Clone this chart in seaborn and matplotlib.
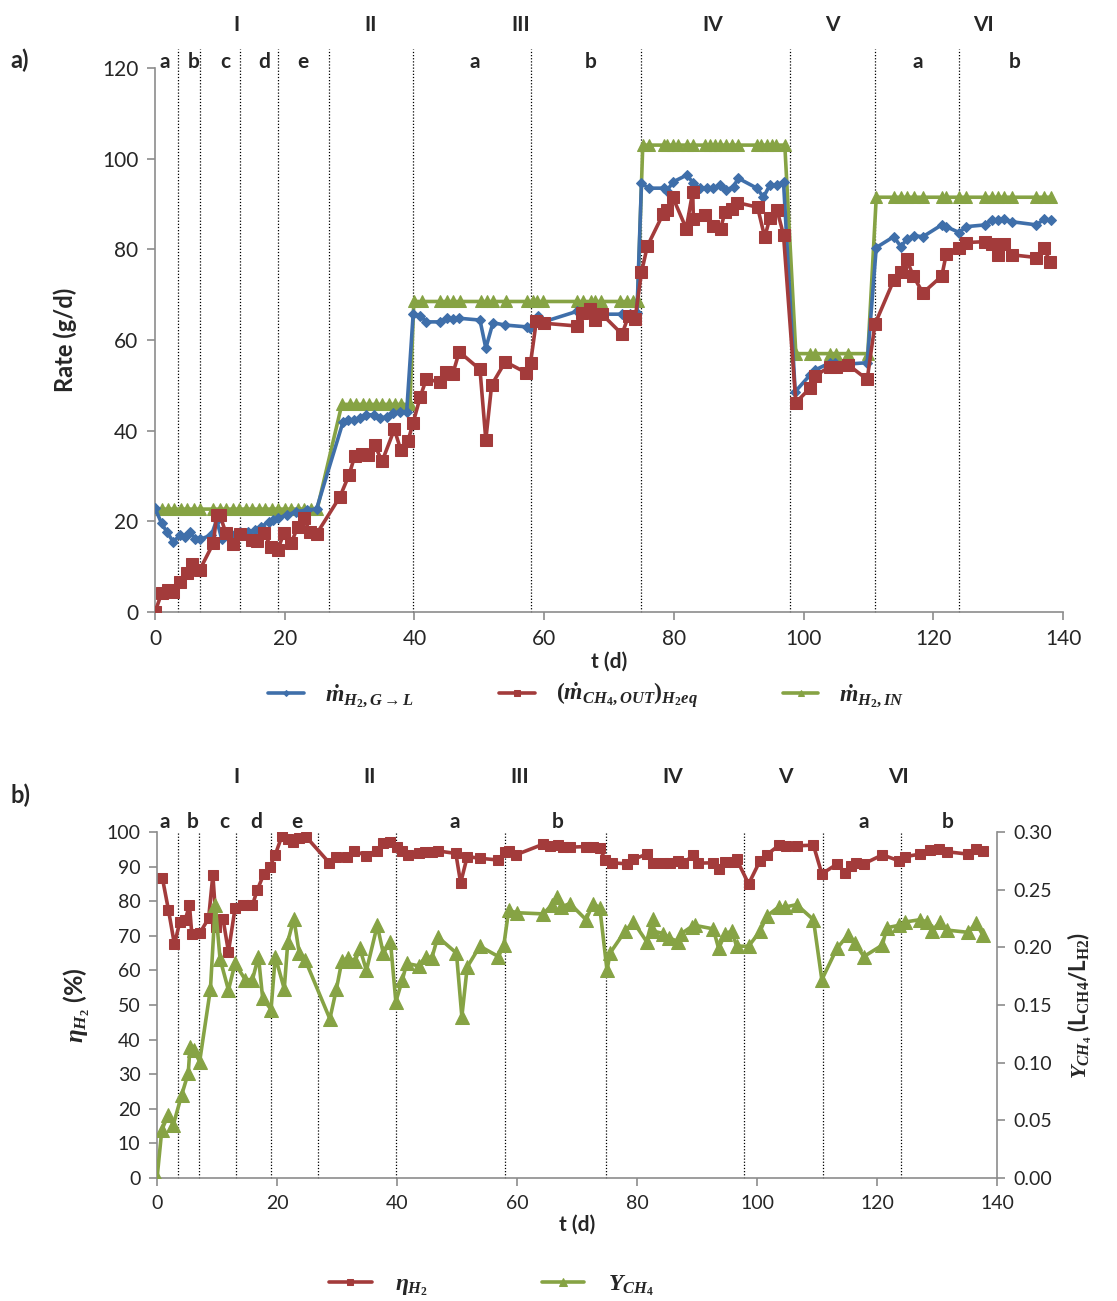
import matplotlib
matplotlib.use("Agg")
import matplotlib.pyplot as plt
import seaborn as sns
import pandas as pd

# ---------------- data: panel a ----------------
blue_t = [0, 1.0, 1.8, 2.8, 3.9, 4.6, 5.4, 6.2, 6.9, 8.7, 9.5, 10.3, 11.8, 13.1, 14.4, 15.4, 16.4, 17.5, 18.2, 19.0,
          20.3, 21.8, 23.4, 24.9, 29.0, 29.8, 30.6, 31.6, 32.6, 33.7, 34.7, 35.7, 36.7, 37.8, 38.8, 39.8, 40.9, 41.8,
          43.9, 45.0, 46.0, 46.9, 50.1, 51.0, 52.1, 54.0, 57.3, 57.8, 59.1, 59.9, 65.0, 67.1, 68.9, 72.0, 73.2, 74.3,
          75.0, 76.1, 78.4, 78.9, 79.9, 82.0, 83.0, 84.0, 85.1, 86.1, 87.1, 88.1, 89.2, 89.9, 92.8, 93.8, 94.8, 95.9,
          96.9, 98.7, 101.0, 101.8, 104.1, 104.8, 106.9, 109.8, 111.2, 113.9, 115.0, 115.9, 117.0, 118.4, 121.3,
          122.0, 124.0, 125.0, 128.0, 129.0, 130.0, 130.9, 132.1, 135.9, 137.0, 138.1]
blue_v = [22.9, 19.6, 17.7, 15.5, 17.0, 16.6, 17.7, 16.0, 16.0, 17.0, 20.3, 16.0, 17.0, 17.7, 17.7, 18.1, 18.8, 19.9,
          20.3, 20.7, 21.4, 22.1, 22.5, 22.7, 42.0, 42.4, 42.4, 42.7, 43.5, 43.5, 42.7, 43.1, 43.8, 44.2, 44.2, 65.7,
          65.3, 64.0, 64.0, 64.8, 64.6, 64.8, 64.4, 58.2, 63.8, 63.3, 62.9, 62.6, 65.3, 64.0, 66.3, 65.9, 65.7, 65.7,
          65.7, 65.9, 94.6, 93.5, 93.5, 92.9, 94.9, 96.4, 94.6, 93.5, 93.5, 93.5, 94.2, 93.1, 93.8, 95.7, 93.5, 91.5,
          94.2, 94.2, 94.9, 48.6, 52.3, 53.4, 55.0, 55.0, 54.7, 55.0, 80.4, 82.8, 80.6, 82.2, 83.0, 82.8, 85.4, 85.0,
          83.7, 85.0, 85.4, 86.5, 86.5, 86.6, 86.1, 85.4, 86.6, 86.5]

red_t = [0, 1.0, 2.0, 2.8, 3.9, 4.9, 5.7, 6.9, 9.0, 9.5, 10.0, 10.9, 12.0, 13.1, 14.9, 15.7, 16.8, 17.9, 18.9, 19.9,
         21.0, 22.0, 22.9, 23.9, 24.9, 28.5, 29.9, 30.8, 31.9, 32.9, 33.9, 35.0, 36.9, 37.9, 39.0, 39.8, 40.9, 41.8,
         43.9, 44.9, 45.9, 46.9, 50.1, 51.0, 51.9, 54.0, 57.2, 57.9, 58.8, 60.0, 65.0, 65.9, 67.0, 67.8, 68.9, 72.0,
         73.0, 74.0, 75.0, 75.9, 78.3, 78.9, 79.8, 81.9, 82.9, 83.0, 84.8, 86.1, 87.2, 87.9, 89.0, 89.8, 92.9, 94.0,
         94.8, 95.9, 96.9, 98.8, 101.0, 101.8, 104.0, 105.0, 106.9, 109.8, 111.0, 113.9, 115.0, 115.9, 116.9, 118.4,
         121.3, 122.0, 124.0, 125.0, 128.0, 129.0, 129.9, 130.9, 132.1, 135.9, 137.0, 138.0]
red_v = [0, 4.1, 4.9, 4.3, 6.7, 8.5, 10.5, 9.3, 15.2, 21.4, 21.4, 17.5, 15.0, 17.1, 15.9, 15.7, 17.4, 14.4, 13.7, 17.5,
         15.2, 18.8, 20.7, 17.7, 17.2, 25.4, 30.2, 34.4, 34.9, 34.6, 36.8, 33.2, 40.3, 35.7, 37.7, 41.8, 47.5, 51.3,
         50.8, 53.0, 52.5, 57.4, 53.5, 38.0, 50.1, 55.2, 52.8, 55.0, 64.3, 63.7, 63.1, 65.9, 66.8, 64.4, 65.7, 61.3,
         65.3, 64.6, 74.9, 80.7, 87.7, 88.7, 91.6, 84.6, 92.7, 86.8, 87.6, 85.2, 84.6, 88.3, 88.8, 90.3, 89.3, 82.7,
         86.9, 88.7, 83.2, 46.2, 49.4, 52.1, 54.1, 54.0, 54.5, 51.3, 63.5, 73.2, 75.1, 77.8, 74.1, 70.4, 74.1, 79.0,
         80.4, 81.5, 81.7, 81.2, 78.8, 81.2, 78.8, 78.2, 80.4, 77.3]

green_t = [0, 1, 2, 3, 4, 5, 6, 7, 9, 10, 11, 12, 13, 14, 15, 16, 17, 18, 19, 20, 21, 22, 23, 24, 25,
           28.8, 30, 31, 32, 33, 34, 35, 36, 37, 38, 39.3,
           39.9, 41.2, 43.9, 45, 46, 47, 50.3, 51.2, 52.1, 54.1, 57.4, 58.3, 58.9, 59.8, 65, 66, 67.2, 67.9, 68.7,
           71.7, 72.8, 73.7, 74.4,
           75.2, 76.1, 78.4, 78.9, 79.9, 80.7, 82, 83, 84.8, 85.5, 86.3, 87.1, 88, 88.9, 89.9, 92.8, 93.5, 94.3,
           95.1, 95.8, 97.1,
           98.8, 101, 101.8, 104, 105, 106.9, 109.9,
           111.2, 113.9, 115, 115.9, 117, 118.4, 121.3, 122, 124, 125, 128, 129, 130, 130.9, 132.1, 135.9, 137, 138.1]
green_v = [22.7, 22.7, 22.7, 22.7, 22.7, 22.7, 22.7, 22.7, 22.7, 22.7, 22.7, 22.7, 22.7, 22.7, 22.7, 22.7, 22.7,
           22.7, 22.7, 22.7, 22.7, 22.7, 22.7, 22.7, 22.7,
           45.8, 45.8, 45.8, 45.8, 45.8, 45.8, 45.8, 45.8, 45.8, 45.8, 45.8,
           68.5, 68.5, 68.5, 68.5, 68.5, 68.5, 68.5, 68.5, 68.5, 68.5, 68.5, 68.5, 68.5, 68.5, 68.5, 68.5, 68.5,
           68.5, 68.5, 68.5, 68.5, 68.5, 68.5,
           103, 103, 103, 103, 103, 103, 103, 103, 103, 103, 103, 103, 103, 103, 103, 103, 103, 103, 103, 103, 103,
           57, 57, 57, 57, 57, 57, 57,
           91.5, 91.5, 91.5, 91.5, 91.5, 91.5, 91.5, 91.5, 91.5, 91.5, 91.5, 91.5, 91.5, 91.5, 91.5, 91.5, 91.5, 91.5]

# ---------------- data: panel b ----------------
eta_t = [0.9, 1.9, 2.9, 3.8, 4.7, 5.4, 5.8, 7.1, 8.6, 9.3, 9.9, 11.0, 11.9, 13.0, 14.4, 15.9, 16.7, 17.8, 18.8, 19.7,
         20.8, 21.9, 22.7, 23.7, 24.9, 28.7, 29.9, 31.7, 32.8, 34.8, 36.6, 37.7, 38.8, 40.0, 40.8, 41.9, 43.6, 44.7,
         45.8, 46.9, 49.8, 50.6, 51.7, 53.8, 56.9, 58.0, 58.6, 59.8, 64.4, 65.5, 66.9, 67.6, 68.8, 71.5, 72.7, 73.8,
         74.7, 75.8, 78.3, 79.4, 81.6, 82.7, 84.3, 85.5, 86.9, 87.7, 89.4, 90.2, 92.7, 93.6, 94.7, 96.1, 96.6, 98.6,
         100.5, 101.6, 103.7, 104.9, 106.6, 109.4, 110.8, 113.4, 114.7, 115.6, 116.5, 117.8, 120.9, 123.6, 124.7,
         127.2, 128.8, 130.4, 131.6, 135.2, 136.5, 137.6]
eta_v = [86.6, 77.5, 67.5, 74.1, 74.6, 78.9, 70.4, 70.7, 75.1, 87.6, 72.6, 74.8, 65.4, 78.0, 78.9, 78.9, 83.2, 87.9,
         90.0, 93.4, 98.8, 97.9, 97.2, 98.2, 98.5, 91.1, 92.9, 92.9, 94.6, 93.2, 94.6, 96.9, 97.2, 95.6, 94.6, 93.4,
         93.8, 94.1, 94.3, 94.5, 93.8, 85.3, 92.9, 92.4, 91.9, 94.3, 94.6, 93.4, 96.5, 96.0, 96.2, 95.8, 95.6, 95.8,
         95.8, 95.3, 91.9, 91.1, 90.8, 92.1, 93.6, 91.0, 91.1, 91.1, 91.7, 91.0, 93.3, 91.0, 91.1, 89.2, 91.4, 91.4,
         92.1, 85.0, 91.7, 93.4, 96.2, 96.0, 96.0, 96.2, 87.9, 90.8, 88.1, 90.2, 91.1, 90.8, 93.4, 91.7, 92.9, 93.6,
         94.8, 95.0, 94.3, 93.6, 95.0, 94.6]

ych4_t = [0, 0.8, 1.9, 2.7, 4.1, 5.2, 5.5, 6.1, 7.1, 8.9, 9.7, 10.5, 11.9, 13.0, 14.7, 15.9, 16.9, 17.6, 19.0, 19.7,
          21.2, 21.8, 22.8, 23.7, 24.7, 28.8, 29.9, 30.8, 31.9, 33.0, 33.8, 34.9, 36.7, 37.7, 38.9, 39.8, 40.9, 41.6,
          43.6, 44.8, 45.8, 46.8, 49.9, 50.8, 51.7, 53.8, 56.9, 57.8, 58.6, 60.0, 64.4, 65.8, 66.7, 67.4, 68.8, 71.5,
          72.7, 73.8, 75.0, 75.5, 78.0, 79.4, 81.6, 82.6, 82.7, 84.4, 85.4, 86.9, 87.4, 89.1, 89.7, 92.7, 93.6, 94.7,
          95.8, 96.6, 98.6, 100.5, 101.6, 103.6, 104.7, 106.6, 109.4, 110.8, 113.3, 115.2, 116.3, 117.8, 120.9, 121.6,
          123.6, 124.7, 127.2, 128.3, 129.1, 130.5, 131.6, 135.2, 136.5, 137.6]
ych4_v = [0, 0.042, 0.055, 0.046, 0.072, 0.091, 0.114, 0.111, 0.101, 0.164, 0.237, 0.19, 0.163, 0.186, 0.172, 0.172,
          0.192, 0.156, 0.146, 0.192, 0.164, 0.205, 0.225, 0.195, 0.189, 0.138, 0.164, 0.188, 0.191, 0.188, 0.199,
          0.18, 0.219, 0.195, 0.205, 0.153, 0.172, 0.186, 0.184, 0.192, 0.191, 0.209, 0.195, 0.14, 0.183, 0.201,
          0.192, 0.202, 0.232, 0.23, 0.229, 0.237, 0.244, 0.235, 0.238, 0.224, 0.238, 0.234, 0.18, 0.195, 0.214,
          0.222, 0.205, 0.225, 0.214, 0.212, 0.208, 0.205, 0.212, 0.218, 0.219, 0.216, 0.199, 0.212, 0.214, 0.201,
          0.201, 0.214, 0.227, 0.235, 0.235, 0.237, 0.224, 0.172, 0.199, 0.211, 0.204, 0.192, 0.202, 0.217, 0.219,
          0.222, 0.224, 0.222, 0.214, 0.222, 0.215, 0.213, 0.221, 0.211]

# phase boundaries and labels
bounds = [3.5, 7.0, 13.1, 19.0, 26.8, 39.8, 58.0, 74.9, 97.9, 111.0, 124.0]
roman = ["I", "II", "III", "IV", "V", "VI"]
roman_a = [12.5, 33.3, 56.4, 86.0, 104.4, 127.7]
roman_b = [13.2, 35.5, 60.5, 86.0, 104.8, 123.5]
sub = ["a", "b", "c", "d", "e", "a", "b", "a", "b"]
sub_a = [1.5, 5.9, 10.9, 16.8, 22.8, 49.3, 67.2, 117.6, 132.6]
sub_b = [1.3, 6.0, 11.2, 16.5, 23.3, 49.7, 66.8, 117.8, 131.8]

# ---------------- style ----------------
sns.set_style("ticks")
plt.rcParams["font.family"] = ["Lato", "DejaVu Sans"]
plt.rcParams["mathtext.fontset"] = "custom"
plt.rcParams["mathtext.rm"] = "Liberation Serif:bold"
plt.rcParams["mathtext.it"] = "Liberation Serif:italic:bold"
plt.rcParams["mathtext.bf"] = "Liberation Serif:bold"

BLUE = "#3F6FAA"
RED = "#A33B3B"
GREEN = "#86A344"
SPINE = "#8C8C8C"

fig = plt.figure(figsize=(11.17, 13.01), dpi=100)
ax1 = fig.add_axes([0.1388, 0.5296, 0.8129, 0.4181])
ax2 = fig.add_axes([0.1406, 0.0945, 0.752, 0.266])
ax3 = ax2.twinx()

df_blue = pd.DataFrame({"t": blue_t, "v": blue_v})
df_red = pd.DataFrame({"t": red_t, "v": red_v})
df_green = pd.DataFrame({"t": green_t, "v": green_v})
df_eta = pd.DataFrame({"t": eta_t, "v": eta_v})
df_y = pd.DataFrame({"t": ych4_t, "v": ych4_v})

lab_blue = r"$\dot{m}_{H_2,G\rightarrow L}$"
lab_red = r"$(\dot{m}_{CH_4,OUT})_{H_2eq}$"
lab_green = r"$\dot{m}_{H_2,IN}$"

sns.lineplot(data=df_green, x="t", y="v", ax=ax1, color=GREEN, marker="^", markersize=8, markeredgecolor=GREEN,
             linewidth=2.6, estimator=None, sort=False, label=lab_green, zorder=2)
sns.lineplot(data=df_blue, x="t", y="v", ax=ax1, color=BLUE, marker="D", markersize=5, markeredgecolor=BLUE,
             linewidth=2.6, estimator=None, sort=False, label=lab_blue, zorder=3)
sns.lineplot(data=df_red, x="t", y="v", ax=ax1, color=RED, marker="s", markersize=8, markeredgecolor=RED,
             linewidth=2.6, estimator=None, sort=False, label=lab_red, zorder=4)

sns.lineplot(data=df_eta, x="t", y="v", ax=ax2, color=RED, marker="s", markersize=7, markeredgecolor=RED,
             linewidth=2.6, estimator=None, sort=False, label=r"$\eta_{H_2}$", legend=False)
sns.lineplot(data=df_y, x="t", y="v", ax=ax3, color=GREEN, marker="^", markersize=10, markeredgecolor=GREEN,
             linewidth=2.6, estimator=None, sort=False, label=r"$Y_{CH_4}$", legend=False)

# axes limits / ticks
ax1.set_xlim(0, 140)
ax1.set_ylim(0, 120)
ax1.set_xticks(range(0, 141, 20))
ax1.set_yticks(range(0, 121, 20))
ax2.set_xlim(0, 140)
ax2.set_ylim(0, 100)
ax2.set_xticks(range(0, 141, 20))
ax2.set_yticks(range(0, 101, 10))
ax3.set_ylim(0, 0.30)
ax3.set_yticks([0.0, 0.05, 0.10, 0.15, 0.20, 0.25, 0.30])
ax3.set_yticklabels(["0.00", "0.05", "0.10", "0.15", "0.20", "0.25", "0.30"])

for ax in (ax1, ax2, ax3):
    for s in ax.spines.values():
        s.set_color(SPINE)
        s.set_linewidth(1.2)
    ax.tick_params(axis="both", color=SPINE, length=6, width=1.2, direction="out", pad=6)
ax1.tick_params(axis="both", labelsize=15)
ax2.tick_params(axis="both", labelsize=14)
ax3.tick_params(axis="both", labelsize=14)
ax1.spines["top"].set_visible(False)
ax1.spines["right"].set_visible(False)
ax2.spines["top"].set_visible(False)
ax3.spines["top"].set_visible(False)
ax2.spines["right"].set_visible(False)
ax3.spines["left"].set_visible(False)
ax3.spines["bottom"].set_visible(False)

ax1.set_xlabel("t (d)", fontsize=15, fontweight="bold", labelpad=2)
ax1.set_ylabel("Rate (g/d)", fontsize=17, fontweight="bold", labelpad=18)
ax2.set_xlabel("t (d)", fontsize=15, fontweight="bold", labelpad=2)
ax2.set_ylabel(r"$\eta_{H_2}$ (%)", fontsize=18, fontweight="bold", labelpad=10)
ax3.set_ylabel(r"$Y_{CH_4}$ (L$_{\mathbf{CH4}}$/L$_{\mathbf{H2}}$)", fontsize=16, fontweight="bold", labelpad=10)

# phase separators
for b in bounds:
    ax1.axvline(b, ymin=0, ymax=1.035, color="black", linestyle=(0, (1, 1.5)), linewidth=0.9, clip_on=False, zorder=1)
    ax2.axvline(b, ymin=0, ymax=1.0, color="black", linestyle=(0, (1, 1.5)), linewidth=0.9, clip_on=False, zorder=1)

for name, xa, xb in zip(roman, roman_a, roman_b):
    ax1.text(xa, 1.08, name, transform=ax1.get_xaxis_transform(), ha="center", va="center", fontsize=15,
             fontweight="bold")
    ax2.text(xb, 1.16, name, transform=ax2.get_xaxis_transform(), ha="center", va="center", fontsize=15,
             fontweight="bold")
for name, xa, xb in zip(sub, sub_a, sub_b):
    ax1.text(xa, 1.012, name, transform=ax1.get_xaxis_transform(), ha="center", va="center", fontsize=15,
             fontweight="bold")
    ax2.text(xb, 1.03, name, transform=ax2.get_xaxis_transform(), ha="center", va="center", fontsize=15,
             fontweight="bold")

fig.text(0.009, 0.954, "a)", fontsize=17, fontweight="bold", va="center")
fig.text(0.009, 0.389, "b)", fontsize=17, fontweight="bold", va="center")

# legends
h1, l1 = ax1.get_legend_handles_labels()
order = [1, 2, 0]
ax1.legend([h1[i] for i in order], [l1[i] for i in order], loc="center", bbox_to_anchor=(0.525, 0.4655),
           bbox_transform=fig.transFigure, ncol=3, frameon=False, fontsize=17, handlelength=1.5,
           columnspacing=3.6, markerscale=0.6, handletextpad=0.9)
h2, l2 = ax2.get_legend_handles_labels()
h3, l3 = ax3.get_legend_handles_labels()
ax2.legend(h2 + h3, l2 + l3, loc="center", bbox_to_anchor=(0.44, 0.0115), bbox_transform=fig.transFigure,
           ncol=2, frameon=False, fontsize=17, handlelength=1.8, columnspacing=4.8, markerscale=0.6,
           handletextpad=1.0)

fig.savefig("out.png", dpi=100)
